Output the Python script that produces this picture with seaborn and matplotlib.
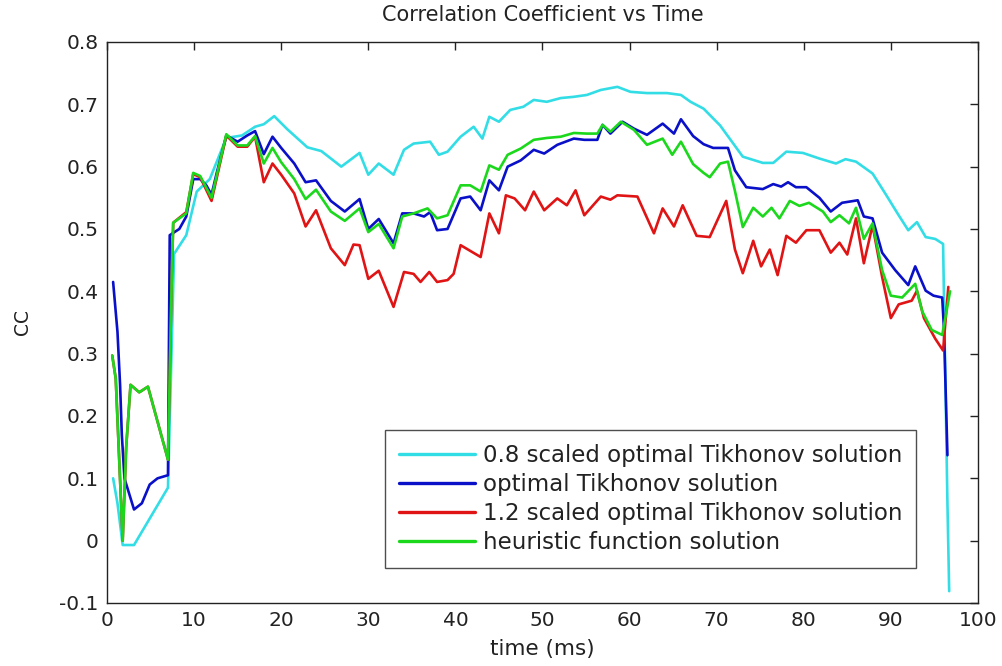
import matplotlib
matplotlib.use('Agg')
import matplotlib.pyplot as plt
import seaborn as sns
import pandas as pd

# values
t_cyan = [0.7, 1.2, 1.8, 3.1, 7.0, 7.7, 9.1, 10.3, 11.8, 13.7, 15.5, 17, 18, 19.2, 20.7, 23, 24.6, 26.9,
          29, 30, 31.2, 32.9, 34.1, 35.2, 37.1, 38.1, 39.1, 40.6, 42.1, 43.1, 43.9, 45, 46.3, 47.8, 49,
          50.5, 52.1, 53.6, 55.1, 56.7, 58.6, 60.1, 62, 64.3, 65.9, 67, 68.5, 70.4, 73, 75.3, 76.5, 78,
          79.9, 81.8, 83.7, 84.8, 86, 87.9, 89.4, 90.9, 92, 93, 94, 95.1, 96, 96.5, 96.7]
cc_cyan = [0.10, 0.06, -0.007, -0.007, 0.085, 0.46, 0.49, 0.56, 0.58, 0.646, 0.65, 0.664, 0.668, 0.681,
           0.66, 0.631, 0.625, 0.60, 0.622, 0.587, 0.605, 0.587, 0.627, 0.637, 0.640, 0.619, 0.624, 0.648,
           0.664, 0.645, 0.68, 0.672, 0.691, 0.696, 0.707, 0.704, 0.71, 0.712, 0.715, 0.723, 0.728, 0.72,
           0.718, 0.718, 0.715, 0.704, 0.693, 0.666, 0.616, 0.606, 0.606, 0.624, 0.622, 0.613, 0.605,
           0.612, 0.608, 0.589, 0.556, 0.522, 0.498, 0.511, 0.487, 0.484, 0.476, 0.06, -0.081]

t_blue = [0.7, 1.2, 1.5, 1.7, 2.0, 3.1, 4.0, 4.9, 5.8, 7.0, 7.2, 8.3, 9.1, 9.9, 10.7, 11.4, 12, 12.6,
          13.7, 15, 16.1, 17, 18, 19, 20, 21.5, 22.8, 24, 25.7, 27.3, 29, 30, 31.2, 32.9, 33.9, 35.2,
          36.4, 37.1, 37.9, 39.1, 40.6, 41.7, 42.9, 43.9, 45, 46, 47.5, 49, 50.2, 51.7, 53.6, 54.8,
          56.3, 56.9, 57.8, 59.2, 60.5, 62, 63.8, 65.1, 65.9, 67.3, 68.5, 69.6, 71.3, 72.1, 73.4, 75.3,
          76.5, 77.4, 78.2, 79.1, 80.3, 81.8, 83.1, 84.4, 86.2, 86.9, 87.9, 89, 90.5, 92, 92.8, 94,
          94.9, 95.9, 96.1, 96.5]
cc_blue = [0.415, 0.335, 0.25, 0.17, 0.10, 0.05, 0.06, 0.09, 0.10, 0.105, 0.49, 0.50, 0.52, 0.58, 0.58,
           0.57, 0.555, 0.59, 0.65, 0.64, 0.65, 0.657, 0.62, 0.648, 0.63, 0.605, 0.575, 0.578, 0.545,
           0.528, 0.548, 0.50, 0.516, 0.477, 0.525, 0.525, 0.52, 0.527, 0.498, 0.5, 0.549, 0.552, 0.53,
           0.578, 0.562, 0.6, 0.61, 0.627, 0.621, 0.635, 0.645, 0.643, 0.643, 0.667, 0.653, 0.672,
           0.661, 0.651, 0.669, 0.653, 0.676, 0.649, 0.636, 0.63, 0.63, 0.594, 0.567, 0.564, 0.572,
           0.568, 0.575, 0.567, 0.567, 0.55, 0.528, 0.542, 0.546, 0.52, 0.517, 0.462, 0.434, 0.41,
           0.44, 0.401, 0.393, 0.39, 0.34, 0.137]

t_red = [0.6, 1.0, 1.8, 2.2, 2.7, 3.7, 4.7, 7.0, 7.4, 7.6, 9.1, 9.9, 10.7, 12, 13.7, 15, 16.1, 17, 18,
         19, 20, 21.5, 22.8, 24, 25.7, 27.3, 28.3, 29, 30, 31.2, 32.9, 34.1, 35.2, 36, 37, 37.9, 39.1,
         39.8, 40.6, 42.9, 43.9, 45, 45.8, 46.8, 48, 49, 50.2, 51.7, 52.8, 53.8, 54.8, 56.7, 57.8, 58.6,
         60.9, 62.8, 63.8, 65.1, 66.1, 67.7, 69.2, 71.1, 72.1, 73, 74.2, 75.1, 76.1, 77, 78, 79.1, 80.3,
         81.8, 83.1, 84.1, 85, 86, 86.9, 87.9, 89, 90, 90.9, 92.4, 93, 93.8, 95.1, 96, 96.6]
cc_red = [0.297, 0.26, 0.0, 0.15, 0.25, 0.238, 0.247, 0.13, 0.4, 0.51, 0.527, 0.588, 0.583, 0.545, 0.65,
          0.632, 0.632, 0.648, 0.575, 0.605, 0.587, 0.557, 0.504, 0.53, 0.469, 0.442, 0.475, 0.474,
          0.42, 0.433, 0.375, 0.431, 0.428, 0.415, 0.431, 0.415, 0.418, 0.428, 0.474, 0.455, 0.525,
          0.493, 0.554, 0.549, 0.53, 0.56, 0.53, 0.549, 0.538, 0.562, 0.522, 0.552, 0.547, 0.554,
          0.552, 0.493, 0.533, 0.504, 0.538, 0.489, 0.487, 0.545, 0.467, 0.429, 0.481, 0.44, 0.467,
          0.426, 0.489, 0.478, 0.498, 0.498, 0.462, 0.478, 0.459, 0.517, 0.445, 0.506, 0.423, 0.357,
          0.379, 0.385, 0.401, 0.357, 0.324, 0.305, 0.407]

t_green = [0.6, 1.0, 1.8, 2.2, 2.7, 3.7, 4.7, 7.0, 7.4, 7.6, 9.1, 9.9, 10.7, 12, 13.7, 15, 16.1, 17, 18,
           19, 20, 21.5, 22.8, 24, 25.7, 27.3, 29, 30, 31.2, 32.9, 33.9, 35.2, 36.8, 37.9, 39.1, 40.6,
           41.7, 42.9, 43.9, 45, 46, 47.5, 49, 50.5, 52.1, 53.6, 55.1, 56.3, 56.9, 57.8, 59, 60.5, 62,
           63.8, 64.9, 65.9, 67.3, 68.5, 69.2, 70.4, 71.3, 72.1, 73, 74.2, 75.3, 76.3, 77.2, 78.4, 79.5,
           80.6, 82.2, 83.1, 84.1, 85.2, 86, 86.9, 87.9, 89, 90, 91.3, 92.8, 93.6, 94.7, 95.9, 96.4, 96.8]
cc_green = [0.297, 0.26, 0.0, 0.15, 0.25, 0.238, 0.247, 0.13, 0.4, 0.51, 0.525, 0.59, 0.585, 0.55, 0.652,
            0.634, 0.634, 0.649, 0.605, 0.63, 0.607, 0.58, 0.548, 0.563, 0.528, 0.513, 0.533, 0.495,
            0.508, 0.469, 0.52, 0.525, 0.533, 0.517, 0.522, 0.57, 0.57, 0.56, 0.602, 0.595, 0.619,
            0.629, 0.643, 0.646, 0.648, 0.654, 0.653, 0.653, 0.667, 0.656, 0.672, 0.659, 0.635, 0.645,
            0.619, 0.64, 0.604, 0.59, 0.583, 0.605, 0.608, 0.561, 0.503, 0.534, 0.52, 0.534, 0.517,
            0.545, 0.537, 0.542, 0.528, 0.511, 0.522, 0.509, 0.534, 0.484, 0.509, 0.434, 0.393, 0.39,
            0.412, 0.368, 0.338, 0.33, 0.368, 0.40]

labels = ['0.8 scaled optimal Tikhonov solution', 'optimal Tikhonov solution',
          '1.2 scaled optimal Tikhonov solution', 'heuristic function solution']
colors = ['#33dde6', '#0a10c8', '#e01414', '#1cd81c']

sns.set_style('white')
plt.rcParams['font.family'] = ['DejaVu Sans']

fig = plt.figure(figsize=(10.03, 6.66), dpi=100)
ax = fig.add_axes([0.1067, 0.0946, 0.8683, 0.8424])

series = [(t_cyan, cc_cyan), (t_blue, cc_blue), (t_red, cc_red), (t_green, cc_green)]
for (t, cc), lab, col in zip(series, labels, colors):
    df = pd.DataFrame({'t': t, 'cc': cc})
    sns.lineplot(data=df, x='t', y='cc', ax=ax, color=col, label=lab, linewidth=1.9,
                 estimator=None, sort=False)

ax.set_xlim(0, 100)
ax.set_ylim(-0.1, 0.8)
ax.set_xticks(range(0, 101, 10))
ax.set_yticks([-0.1, 0, 0.1, 0.2, 0.3, 0.4, 0.5, 0.6, 0.7, 0.8])
ax.set_yticklabels(['-0.1', '0', '0.1', '0.2', '0.3', '0.4', '0.5', '0.6', '0.7', '0.8'])
ax.tick_params(direction='in', length=6, width=1, top=True, right=True, labelsize=14.5,
               colors='#222222', pad=6)
for s in ax.spines.values():
    s.set_color('#222222')
    s.set_linewidth(1)

ax.set_title('Correlation Coefficient vs Time', fontsize=15, pad=15, color='#222222')
ax.set_xlabel('time (ms)', fontsize=15.5, labelpad=6.5, color='#222222')
ax.set_ylabel('CC', fontsize=13.5, color='#222222')
ax.yaxis.set_label_coords(-0.086, 0.5)

leg = ax.legend(loc='lower right', bbox_to_anchor=(0.929, 0.062), borderaxespad=0, fontsize=16.5,
                frameon=True, fancybox=False, edgecolor='#222222', handlelength=3.3, borderpad=0.6,
                labelspacing=0.27, handletextpad=0.35)
leg.get_frame().set_linewidth(1)
for line in leg.get_lines():
    line.set_linewidth(2.4)
for txt in leg.get_texts():
    txt.set_color('#222222')

fig.savefig('out.png', dpi=100)
